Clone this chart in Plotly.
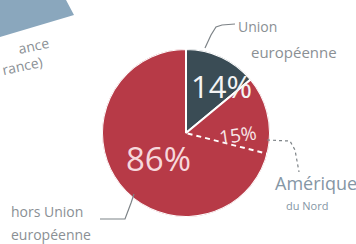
import plotly.graph_objects as go

# Data
regions = ["Union européenne", "hors Union européenne"]
shares = [14, 86]
sub_label = "Amérique du Nord"
sub_share = 15
colors = ["#3a4c55", "#b73a47"]

W, H = 356, 244
def px(x): return x / W
def py(y): return 1 - y / H

# polar geometry (degrees, clockwise from top)
total = sum(shares)
widths, centers = [], []
acc = 0
for v in shares:
    w = v / total * 360
    widths.append(w); centers.append(acc + w / 2)
    acc += w
sub_boundary = (shares[0] + sub_share) / total * 360

fig = go.Figure()
fig.add_trace(go.Barpolar(
    r=[1, 1], theta=centers, width=widths,
    marker=dict(color=colors, line=dict(color="white", width=2)),
    hoverinfo="skip", showlegend=False))
fig.add_trace(go.Scatterpolar(
    r=[0.02, 1], theta=[sub_boundary, sub_boundary], mode="lines",
    line=dict(color="white", width=2, dash="5px,4px"),
    hoverinfo="skip", showlegend=False))

cx, cy, R = 186, 133, 84
fig.update_layout(
    width=W, height=H, margin=dict(l=0, r=0, t=0, b=0),
    paper_bgcolor="white", plot_bgcolor="white",
    polar=dict(
        domain=dict(x=[px(cx - R), px(cx + R)], y=[py(cy + R), py(cy - R)]),
        bgcolor="rgba(0,0,0,0)",
        radialaxis=dict(visible=False, range=[0, 1]),
        angularaxis=dict(visible=False, direction="clockwise", rotation=90),
        barmode="overlay",
    ),
)

font = "Open Sans"
ann = []
def A(text, x, y, size, color, xanchor="center", angle=0, family=font):
    ann.append(dict(text=text, x=px(x), y=py(y), xref="paper", yref="paper",
                    showarrow=False, xanchor=xanchor, yanchor="middle",
                    textangle=angle,
                    font=dict(family=family, size=size, color=color)))

A(f"{shares[0]}%", 221, 86, 31, "#f4f4f4")
A(f"{shares[1]}%", 158, 158, 33, "#f6d8dc")
A(f"{sub_share}%", 237, 135, 19, "#f7e6e8", angle=-8)
A("Union", 236, 27, 14, "#8a8f94", xanchor="left")
A("européenne", 249, 52, 15, "#8a8f94", xanchor="left")
A("Amérique", 273, 183, 18, "#8596a5", xanchor="left")
A("du Nord", 284, 205, 11, "#8596a5", xanchor="left")
A("hors Union", 9, 211, 14, "#8a8f94", xanchor="left")
A("européenne", 9, 234, 14, "#8a8f94", xanchor="left")
A("ance", 14, 45, 14, "#8a8f94", xanchor="left", angle=-12)
A("rance)", -2, 66, 14, "#8a8f94", xanchor="left", angle=-12)

def path(points):
    s = ""
    for i, (x, y) in enumerate(points):
        s += ("M" if i == 0 else " L") + f" {px(x):.4f} {py(y):.4f}"
    return s

shapes = [
    dict(type="path", xref="paper", yref="paper",
         path=path([(0, 0), (66, 0), (74, 15), (0, 37)]) + " Z",
         fillcolor="#8aa7bd", line=dict(width=0), layer="below"),
    dict(type="path", xref="paper", yref="paper",
         path=path([(205, 48), (211, 35), (216, 27), (222, 25), (235, 24)]),
         line=dict(color="#7d8387", width=1.2)),
    dict(type="path", xref="paper", yref="paper",
         path=path([(267, 140), (290, 141), (295, 150), (299, 172)]),
         line=dict(color="#7d8387", width=1.2, dash="dot")),
    dict(type="path", xref="paper", yref="paper",
         path=path([(100, 219), (125, 219), (131, 203), (134, 194)]),
         line=dict(color="#7d8387", width=1.2)),
]
fig.update_layout(annotations=ann, shapes=shapes)
fig.write_html("out.html", config={"displayModeBar": False},
               post_script="document.body.style.margin='0px';")
